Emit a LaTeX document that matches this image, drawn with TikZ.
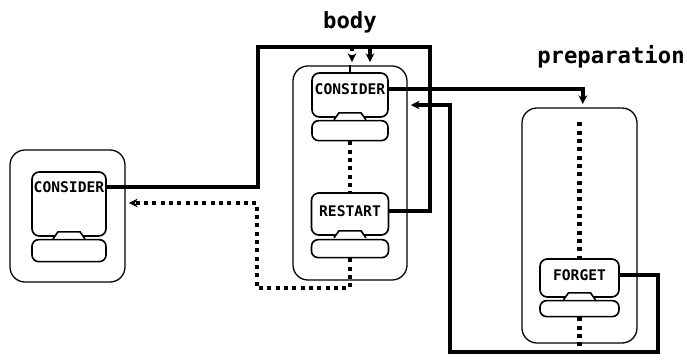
\documentclass[tikz,border=0pt]{standalone}
\usepackage{fontspec}
\setmonofont{DejaVu Sans Mono}
\usetikzlibrary{arrows.meta, positioning, calc}
\tikzset{
  frame/.style={
    rectangle, rounded corners=0.45cm, draw=black, line width=1.1pt
  },
  card/.style={
    rectangle, rounded corners=0.22cm, draw=black, line width=1.4pt,
    fill=white
  },
  blob/.style={
    rectangle, rounded corners=0.2cm, draw=black, line width=1.4pt,
    fill=white
  },
  tag/.style={font=\ttfamily\bfseries\fontsize{12.5}{13}\selectfont, inner sep=0pt},
  title/.style={font=\ttfamily\bfseries\fontsize{19}{21}\selectfont},
  wire/.style={line width=0.11cm},
  link/.style={wire, -{Stealth[length=0.26cm, width=0.26cm]}, shorten >=0.1cm},
  seq/.style={line width=0.13cm, dash pattern=on 0.12cm off 0.13cm},
  seqlink/.style={seq, -{Stealth[length=0.26cm, width=0.26cm]}, shorten >=0.1cm}
}
% notch between the upper part of a card and its lower part
\newcommand{\notch}[1]{%
  \fill[white] ($(#1.south)+(-16,1.5)$) -- ($(#1.south)+(-11,-5)$)
    -- ($(#1.south)+(11,-5)$) -- ($(#1.south)+(16,1.5)$) -- cycle;
  \draw[line width=1.4pt] ($(#1.south)+(-16,2)$) -- ($(#1.south)+(-11,-5)$)
    -- ($(#1.south)+(11,-5)$) -- ($(#1.south)+(16,2)$);
}

\begin{document}
\begin{tikzpicture}[x=0.03cm, y=-0.03cm]
\useasboundingbox (0,0) rectangle (687,364);

% containers
\node[frame, minimum width=3.45cm, minimum height=3.96cm] (main) at (67.5,216) {};
\node[frame, minimum width=3.42cm, minimum height=6.42cm] (body) at (350,173) {};
\node[frame, minimum width=3.45cm, minimum height=7.05cm] (prep) at (579.5,225.5) {};
\node[title] (bodyt) at (350,22) {body};
\node[title] (prept) at (611,57) {preparation};

% cards
\node[card, minimum width=2.22cm, minimum height=1.92cm] (cons1) at (69,204) {};
\node[blob, minimum width=2.22cm, minimum height=0.66cm, below=0.06cm of cons1] (cons1b) {};
\node[tag] (cons1t) at ([yshift=-0.48cm]cons1.north) {CONSIDER};

\node[card, minimum width=2.28cm, minimum height=1.32cm] (cons2) at (350,95) {};
\node[blob, minimum width=2.28cm, minimum height=0.6cm, below=0.06cm of cons2] (cons2b) {};
\node[tag] (cons2t) at ([yshift=-0.5cm]cons2.north) {CONSIDER};

\node[card, minimum width=2.31cm, minimum height=1.26cm] (rest) at (350,214) {};
\node[blob, minimum width=2.31cm, minimum height=0.54cm, below=0.09cm of rest] (restb) {};
\node[tag] (restt) at ([yshift=-0.56cm]rest.north) {RESTART};

\node[card, minimum width=2.37cm, minimum height=1.14cm] (forg) at (579.5,278) {};
\node[blob, minimum width=2.37cm, minimum height=0.48cm, below=0.06cm of forg] (forgb) {};
\node[tag] (forgt) at ([yshift=-0.5cm]forg.north) {FORGET};

\notch{cons1}
\notch{cons2}
\notch{rest}
\notch{forg}

% bends
\coordinate (lt) at (258,47);
\coordinate (rt) at (430,47);
\coordinate (in1) at (352,47);
\coordinate (in2) at (370,47);
\coordinate (fr) at (658,352);
\coordinate (fl) at (450,352);
\coordinate (ret) at (450,105);
\coordinate (lp1) at (257,288);
\coordinate (lp2) at (257,203);

% solid connectors
\draw[wire] (cons1t -| cons1.east) -| (lt) -- (in2);
\draw[wire] (restt -| rest.east) -| (rt) -- (in2);
\draw[link] (in2) -- (in2 |- body.north);
\draw[link] (cons2t -| cons2.east) -| ([xshift=0.1cm]prep.north);
\draw[link] (forgt -| forg.east) -| (fr) -- (fl) -- (ret) -- (ret -| body.east);
\draw[line width=1pt] (body.north) -- (cons2.north);

% dotted sequence
\draw[seqlink] (in1) -- (in1 |- body.north);
\draw[seq] (cons2b.south) -- (rest.north);
\draw[seqlink] (restb.south) |- (lp1) -- (lp2) -- (lp2 -| main.east);
\draw[seq] ([yshift=-0.45cm]prep.north) -- (forg.north);
\draw[seq] (forgb.south) -- (forgb.south |- fl);

\end{tikzpicture}
\end{document}
